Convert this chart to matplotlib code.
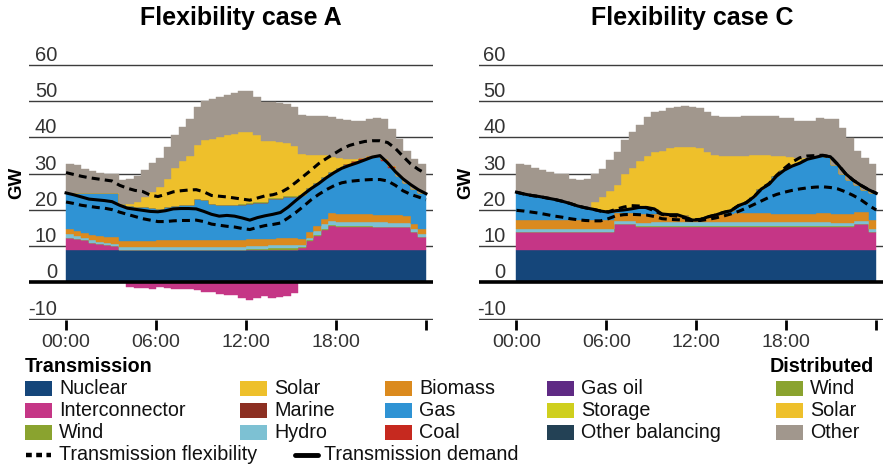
import numpy as np
import matplotlib
matplotlib.use('Agg')
import matplotlib.pyplot as plt
from matplotlib.patches import Rectangle

plt.rcParams['font.family'] = ['Liberation Sans', 'DejaVu Sans']

#---
# half-hourly values (GW), 48 periods per day
#---
hours_edges = np.arange(49) * 0.5
line_t = np.linspace(0, 24, 48)

titles = ['Flexibility case A', 'Flexibility case C']
xtick_pos = [0, 6, 12, 18, 24]
xtick_lab = ['00:00', '06:00', '12:00', '18:00', '']
ytick_vals = [-10, 0, 10, 20, 30, 40, 50, 60]

#--- case A ---
nuclear_a = [9.0, 9.0, 9.0, 9.0, 9.0, 9.0, 9.0, 9.0, 9.0, 9.0, 9.0, 9.0,
             9.0, 9.0, 9.0, 9.0, 9.0, 9.0, 9.0, 9.0, 9.0, 9.0, 9.0, 9.0,
             9.0, 9.0, 9.0, 9.0, 9.0, 9.0, 9.0, 9.0, 9.0, 9.0, 9.0, 9.0,
             9.0, 9.0, 9.0, 9.0, 9.0, 9.0, 9.0, 9.0, 9.0, 9.0, 9.0, 9.0]
inter_a = [3.3, 2.9, 2.7, 2.0, 1.6, 1.3, 1.0, 0.0, -1.2, -1.4, -1.5, -1.7,
           -1.2, -1.6, -1.7, -1.7, -1.7, -2.2, -2.7, -2.7, -3.3, -3.4, -3.4, -4.4,
           -4.8, -4.2, -3.6, -4.3, -4.0, -3.8, -3.0, 0.4, 2.5, 3.8, 5.6, 6.6,
           6.3, 6.3, 6.3, 6.3, 6.3, 6.3, 6.3, 6.3, 6.3, 6.3, 4.8, 3.6]
wind_a = [0, 0, 0, 0, 0, 0, 0, 0, 0, 0, 0, 0,
          0, 0, 0, 0, 0, 0, 0, 0, 0, 0, 0, 0,
          0.2, 0.3, 0.3, 0.4, 0.5, 0.6, 0.6, 0.4, 0.3, 0.3, 0.2, 0.2,
          0.2, 0.2, 0.2, 0.2, 0.2, 0.1, 0.1, 0, 0, 0, 0, 0]
hydro_a = [1.0, 0.9, 0.7, 0.7, 0.6, 0.6, 0.7, 0.8, 0.8, 0.8, 0.8, 0.8,
           0.9, 0.9, 0.9, 0.9, 0.9, 0.9, 0.9, 0.9, 0.9, 0.9, 0.9, 0.9,
           0.9, 0.8, 0.8, 0.8, 0.8, 0.8, 0.8, 0.5, 0.6, 1.1, 1.2, 1.1,
           1.2, 1.2, 1.2, 1.2, 1.2, 1.2, 1.2, 1.2, 1.2, 1.2, 0.9, 0.7]
biomass_a = [1.4, 1.4, 1.3, 1.3, 1.6, 1.7, 1.8, 1.7, 1.7, 1.7, 1.7, 1.7,
             1.8, 1.8, 1.8, 1.8, 1.8, 1.9, 1.9, 1.9, 1.9, 1.9, 1.9, 1.9,
             1.9, 1.9, 1.9, 1.9, 1.9, 1.8, 1.8, 1.8, 1.5, 1.3, 1.6, 2.3,
             2.3, 2.3, 2.3, 2.2, 2.1, 2.1, 2.1, 2.0, 2.0, 1.7, 1.3, 1.4]
gas_a = [10.0, 10.5, 11.0, 11.7, 11.9, 12.1, 12.2, 10.1, 9.6, 9.3, 9.3, 9.0,
         8.7, 9.2, 9.5, 9.6, 9.7, 11.2, 10.9, 9.8, 9.7, 9.7, 9.7, 9.7,
         9.6, 9.8, 9.9, 10.9, 10.9, 11.3, 11.5, 11.9, 12.1, 11.9, 11.4, 11.2,
         12.6, 13.3, 14.0, 14.9, 15.5, 15.8, 14.8, 13.0, 11.0, 9.2, 9.8, 9.9]
coal_a = [0, 0, 0, 0, 0, 0, 0, 0, 0, 0, 0, 0,
          0, 0, 0, 0, 0, 0, 0, 0, 0, 0, 0, 0,
          0, 0, 0, 0, 0, 0, 0, 0, 0, 0, 0, 0,
          0, 0.3, 0.4, 0.5, 0.6, 0.6, 0.6, 0.6, 0, 0, 0, 0]
dwind_a = [0, 0, 0, 0, 0, 0, 0, 0, 0, 0, 0, 0,
           0, 0, 0, 0, 0, 0, 0, 0, 0, 0, 0, 0.2,
           0.3, 0.3, 0.3, 0.2, 0.2, 0.3, 0.2, 0, 0, 0, 0, 0,
           0, 0, 0, 0, 0, 0, 0, 0, 0, 0, 0, 0]
dsolar_a = [0, 0, 0, 0, 0, 0, 0, 0, 0.6, 1.4, 2.8, 4.5,
            5.9, 7.7, 10.4, 12.1, 13.6, 15.0, 16.5, 18.0, 18.6, 19.1, 19.5, 19.9,
            19.7, 18.5, 16.7, 15.7, 15.5, 14.7, 13.7, 11.4, 9.3, 7.9, 6.2, 4.2,
            2.8, 1.6, 0.6, 0, 0, 0, 0, 0, 0, 0, 0, 0]
dother_a = [8.1, 7.6, 6.7, 6.0, 5.6, 5.3, 5.1, 6.7, 6.9, 7.1, 7.5, 8.0,
            8.1, 8.7, 9.1, 9.4, 10.1, 10.4, 10.9, 10.9, 11.2, 11.1, 11.2, 11.1,
            11.1, 10.7, 11.0, 11.0, 10.7, 10.8, 10.9, 10.7, 10.7, 10.7, 10.8, 11.0,
            10.7, 10.5, 10.6, 10.2, 10.1, 10.4, 11.1, 10.3, 10.0, 9.0, 8.4, 8.2]
demand_a = [24.7, 24.2, 23.6, 23.0, 22.8, 22.6, 22.3, 21.3, 20.5, 20.2, 19.9, 19.6,
            19.5, 19.8, 20.3, 20.4, 20.4, 20.3, 19.6, 18.8, 18.3, 18.5, 18.3, 17.8,
            17.2, 17.9, 18.4, 18.8, 19.3, 20.8, 22.6, 24.3, 25.9, 27.3, 28.9, 30.3,
            31.5, 32.3, 33.0, 33.8, 34.6, 35.0, 33.0, 30.6, 28.6, 27.0, 25.6, 24.5]
flex_up_a = [30.3, 29.8, 29.3, 28.9, 28.6, 28.3, 28.0, 26.8, 26.0, 25.4, 25.1, 24.1,
             23.7, 24.3, 25.0, 25.3, 25.5, 25.6, 25.0, 24.0, 23.8, 23.6, 23.3, 23.0,
             22.7, 23.3, 23.9, 24.2, 24.8, 26.0, 27.6, 29.3, 31.0, 32.8, 34.2, 35.5,
             36.8, 37.8, 38.4, 38.9, 39.1, 39.1, 38.6, 37.0, 34.8, 32.7, 31.2, 30.0]
flex_low_a = [22.2, 21.8, 21.3, 21.0, 20.7, 20.5, 20.1, 19.4, 18.8, 18.2, 17.6, 17.2,
              16.8, 16.8, 17.0, 17.1, 17.1, 17.2, 16.8, 16.1, 15.8, 15.5, 15.3, 14.9,
              14.6, 15.2, 15.7, 16.0, 16.4, 17.8, 19.3, 21.0, 22.8, 24.3, 25.6, 26.7,
              27.5, 27.9, 28.1, 28.3, 28.4, 28.4, 28.0, 26.8, 25.3, 24.3, 23.6, 22.8]

#--- case C ---
nuclear_c = [9.0, 9.0, 9.0, 9.0, 9.0, 9.0, 9.0, 9.0, 9.0, 9.0, 9.0, 9.0,
             9.0, 9.0, 9.0, 9.0, 9.0, 9.0, 9.0, 9.0, 9.0, 9.0, 9.0, 9.0,
             9.0, 9.0, 9.0, 9.0, 9.0, 9.0, 9.0, 9.0, 9.0, 9.0, 9.0, 9.0,
             9.0, 9.0, 9.0, 9.0, 9.0, 9.0, 9.0, 9.0, 9.0, 9.0, 9.0, 9.0]
inter_c = [4.9, 4.9, 4.9, 4.9, 4.9, 4.9, 4.9, 4.9, 4.9, 4.9, 4.9, 4.9,
           4.9, 7.1, 7.1, 7.1, 6.3, 6.3, 6.3, 6.3, 6.3, 6.3, 6.3, 6.3,
           6.3, 6.3, 6.3, 6.3, 6.3, 6.3, 6.3, 6.3, 6.3, 6.3, 6.3, 6.3,
           6.3, 6.3, 6.3, 6.3, 6.3, 6.3, 6.3, 6.3, 6.3, 7.1, 7.1, 4.9]
wind_c = [0, 0, 0, 0, 0, 0, 0, 0, 0, 0, 0, 0,
          0, 0, 0, 0, 0.2, 0.2, 0.3, 0.3, 0.3, 0.3, 0.3, 0.3,
          0.3, 0.3, 0.3, 0.3, 0.3, 0.3, 0.3, 0.3, 0.3, 0.3, 0.3, 0.3,
          0.3, 0.3, 0.3, 0.3, 0.3, 0.3, 0.2, 0.2, 0.2, 0, 0, 0]
hydro_c = [0.8, 0.8, 0.8, 0.8, 0.8, 0.8, 0.8, 0.8, 0.8, 0.8, 0.8, 0.8,
           0.8, 0.8, 0.8, 0.8, 1.0, 1.0, 1.0, 1.0, 1.0, 1.0, 1.0, 1.0,
           1.0, 1.0, 1.0, 1.0, 1.0, 1.0, 1.0, 1.0, 1.0, 1.0, 1.0, 1.0,
           1.0, 1.0, 1.0, 1.0, 1.0, 1.0, 1.0, 1.0, 1.0, 0.8, 0.8, 0.8]
biomass_c = [2.4, 2.4, 2.4, 2.4, 2.4, 2.4, 2.4, 2.4, 2.4, 2.4, 2.4, 2.4,
             2.4, 2.4, 2.4, 2.4, 2.4, 2.4, 2.3, 2.0, 2.0, 2.0, 2.0, 1.0,
             1.0, 1.7, 2.0, 2.2, 2.4, 2.6, 2.6, 2.6, 2.7, 2.7, 2.4, 2.4,
             2.4, 2.4, 2.4, 2.4, 2.5, 2.5, 2.5, 2.5, 2.5, 2.5, 2.5, 2.4]
gas_c = [7.8, 7.3, 6.9, 6.6, 6.2, 5.8, 5.3, 4.7, 4.0, 3.5, 3.1, 2.6,
         2.3, 0.6, 0.7, 1.0, 1.8, 1.8, 1.4, 0.3, 0.1, 0.1, 0, 0,
         0, 0, 0, 0.5, 0.8, 2.0, 2.8, 4.4, 6.5, 7.8, 10.4, 12.0,
         13.1, 13.9, 15.0, 15.5, 15.9, 15.6, 13.5, 11.0, 9.2, 7.4, 6.2, 7.5]
dsolar_c = [0, 0, 0, 0, 0, 0, 0, 0, 0, 0.2, 2.0, 3.9,
            5.7, 7.1, 9.8, 11.3, 12.7, 14.2, 15.8, 17.5, 18.4, 18.8, 18.9, 19.9,
            19.5, 17.8, 16.6, 15.5, 15.0, 13.6, 13.0, 11.6, 9.4, 8.1, 5.4, 3.8,
            2.5, 1.4, 0.3, 0, 0, 0, 0, 0, 0, 0, 0, 0]
dother_c = [7.9, 7.9, 7.6, 7.2, 7.1, 7.1, 7.6, 6.8, 7.1, 7.8, 7.8, 7.8,
            8.6, 9.0, 9.4, 9.9, 10.1, 10.7, 11.0, 11.0, 11.0, 11.0, 11.3, 11.0,
            11.0, 11.0, 10.8, 10.8, 10.8, 10.8, 10.9, 10.7, 10.8, 10.8, 11.2, 10.5,
            10.7, 10.2, 10.2, 10.0, 10.5, 10.4, 12.6, 12.6, 11.6, 9.6, 8.7, 8.2]
demand_c = [24.9, 24.4, 24.0, 23.7, 23.3, 22.9, 22.4, 21.8, 21.1, 20.6, 20.2, 19.7,
            19.4, 19.8, 20.0, 20.3, 20.7, 20.7, 20.3, 18.9, 18.7, 18.7, 18.0, 17.2,
            17.3, 18.1, 18.6, 19.3, 19.8, 21.2, 22.0, 23.6, 25.8, 27.1, 29.4, 31.0,
            32.1, 32.9, 34.0, 34.5, 35.0, 34.7, 32.5, 30.0, 28.2, 26.8, 25.6, 24.6]
flex_up_c = [24.9, 24.4, 24.0, 23.7, 23.3, 22.9, 22.4, 21.8, 21.1, 20.6, 20.2, 19.7,
             19.5, 20.2, 20.8, 21.2, 21.1, 20.6, 19.8, 18.8, 18.5, 18.3, 17.8, 17.3,
             17.4, 18.1, 18.6, 19.3, 19.8, 21.2, 22.0, 23.6, 25.8, 27.3, 29.6, 31.5,
             33.2, 34.4, 34.9, 35.0, 35.1, 34.7, 32.5, 30.0, 28.2, 26.8, 25.6, 24.6]
flex_low_c = [19.9, 19.7, 19.4, 19.1, 18.7, 18.3, 18.0, 17.6, 17.3, 17.1, 17.0, 17.0,
              17.6, 18.4, 18.7, 18.8, 18.7, 18.6, 18.2, 17.6, 17.4, 17.3, 17.2, 17.1,
              17.1, 17.4, 17.8, 18.3, 18.9, 19.6, 20.5, 21.5, 22.5, 23.5, 24.3, 24.9,
              25.4, 25.8, 26.1, 26.3, 26.4, 26.2, 25.8, 25.0, 24.0, 22.8, 21.3, 20.0]

#---
# colours
#---
c_nuclear = '#15467a'
c_inter = '#c53686'
c_wind = '#8aa32f'
c_solar = '#eec02b'
c_marine = '#8c2f22'
c_hydro = '#7dc1d3'
c_biomass = '#db8a1e'
c_gas = '#2f93d4'
c_coal = '#c6291f'
c_gasoil = '#5f2a84'
c_storage = '#cfcf1e'
c_othbal = '#234155'
c_other = '#a1978d'

cases = [
    dict(nuclear=nuclear_a, inter=inter_a, wind=wind_a, hydro=hydro_a, biomass=biomass_a,
         gas=gas_a, coal=coal_a, dwind=dwind_a, dsolar=dsolar_a, dother=dother_a,
         demand=demand_a, up=flex_up_a, low=flex_low_a),
    dict(nuclear=nuclear_c, inter=inter_c, wind=wind_c, hydro=hydro_c, biomass=biomass_c,
         gas=gas_c, coal=[0] * 48, dwind=[0] * 48, dsolar=dsolar_c, dother=dother_c,
         demand=demand_c, up=flex_up_c, low=flex_low_c),
]

fig = plt.figure(figsize=(8.87, 4.70), dpi=100)

#---
# legend drawn in pixel coordinates
#---
lax = fig.add_axes([0, 0, 1, 1])
lax.set_xlim(0, 887)
lax.set_ylim(470, 0)
lax.axis('off')

leg_cols = [
    [('Nuclear', c_nuclear), ('Interconnector', c_inter), ('Wind', c_wind)],
    [('Solar', c_solar), ('Marine', c_marine), ('Hydro', c_hydro)],
    [('Biomass', c_biomass), ('Gas', c_gas), ('Coal', c_coal)],
    [('Gas oil', c_gasoil), ('Storage', c_storage), ('Other balancing', c_othbal)],
    [('Wind', c_wind), ('Solar', c_solar), ('Other', c_other)],
]
col_x = [25, 240, 385, 547, 776]
row_y = [388, 410, 432]
fs_leg = 14.2

lax.text(25, 366, 'Transmission', fontsize=fs_leg, fontweight='bold', va='center', ha='left')
lax.text(770, 366, 'Distributed', fontsize=fs_leg, fontweight='bold', va='center', ha='left')
for cx, col in zip(col_x, leg_cols):
    for ry, (name, colr) in zip(row_y, col):
        lax.add_patch(Rectangle((cx, ry - 7.5), 27, 15, color=colr, lw=0))
        lax.text(cx + 34, ry, name, fontsize=fs_leg, va='center', ha='left', color='#111')

lax.plot([26, 51], [455, 455], color='black', lw=3.2, dashes=(1.3, 1.0))
lax.text(59, 455, 'Transmission flexibility', fontsize=fs_leg, va='center', ha='left', color='#111')
lax.plot([295, 318], [455, 455], color='black', lw=3.5, solid_capstyle='round')
lax.text(324, 455, 'Transmission demand', fontsize=fs_leg, va='center', ha='left', color='#111')

#---
# the two panels
#---
ax_left = [29 / 887, 479 / 887]
ax_w = 404 / 887
ax_b = 1 - 319.8 / 470
ax_h = (319.8 - 63.9) / 470
title_x = [241, 692]
gw_x = [17, 466]
ylab_x = [-0.6, -0.72]
xlims = [(-2.47, 24.47), (-2.5, 24.45)]

for k, d in enumerate(cases):
    ax = fig.add_axes([ax_left[k], ax_b, ax_w, ax_h])
    ax.set_xlim(*xlims[k])
    ax.set_ylim(-10.3, 60.3)
    for s in ax.spines.values():
        s.set_visible(False)
    ax.patch.set_alpha(0)

    for v in ytick_vals:
        if v == 0:
            continue
        ax.axhline(v, color='#3c3c3c', lw=1.0, zorder=0.5)
        ax.text(ylab_x[k], v + 1.1, str(v), ha='right', va='baseline',
                fontsize=14.5, color='#333333')
    ax.text(ylab_x[k], 1.1, '0', ha='right', va='baseline', fontsize=14.5, color='#333333')

    inter = np.array(d['inter'], dtype=float)
    layers = [
        (d['nuclear'], c_nuclear),
        (np.clip(inter, 0, None), c_inter),
        (d['wind'], c_wind),
        (d['hydro'], c_hydro),
        (d['biomass'], c_biomass),
        (d['gas'], c_gas),
        (d['coal'], c_coal),
        (d['dwind'], c_wind),
        (d['dsolar'], c_solar),
        (d['dother'], c_other),
    ]
    bottom = np.zeros(48)
    for vals, colr in layers:
        vals = np.array(vals, dtype=float)
        ax.stairs(bottom + vals, hours_edges, baseline=bottom, fill=True,
                  color=colr, lw=0.3, ec=colr, zorder=2)
        bottom = bottom + vals
    neg = np.clip(inter, None, 0)
    ax.stairs(neg, hours_edges, baseline=0, fill=True, color=c_inter, lw=0.3, ec=c_inter, zorder=2)

    ax.axhline(0, color='black', lw=2.6, zorder=3)

    ax.plot(line_t, d['up'], color='black', lw=2.2, dashes=(2.6, 1.7), zorder=4)
    ax.plot(line_t, d['low'], color='black', lw=2.2, dashes=(2.6, 1.7), zorder=4)
    ax.plot(line_t, d['demand'], color='black', lw=2.2, zorder=5)

    ax.set_yticks([])
    ax.set_xticks(xtick_pos, xtick_lab)
    ax.tick_params(axis='x', length=7, width=2, color='black', labelsize=14,
                   labelcolor='#333333', pad=3)

    fig.text(title_x[k] / 887, 1 - 18 / 470, titles[k], ha='center', va='center',
             fontsize=18, fontweight='bold')
    fig.text(gw_x[k] / 887, 1 - 183 / 470, 'GW', ha='center', va='center',
             rotation=90, fontsize=13.5, fontweight='bold')

fig.savefig('out.png', dpi=100)
